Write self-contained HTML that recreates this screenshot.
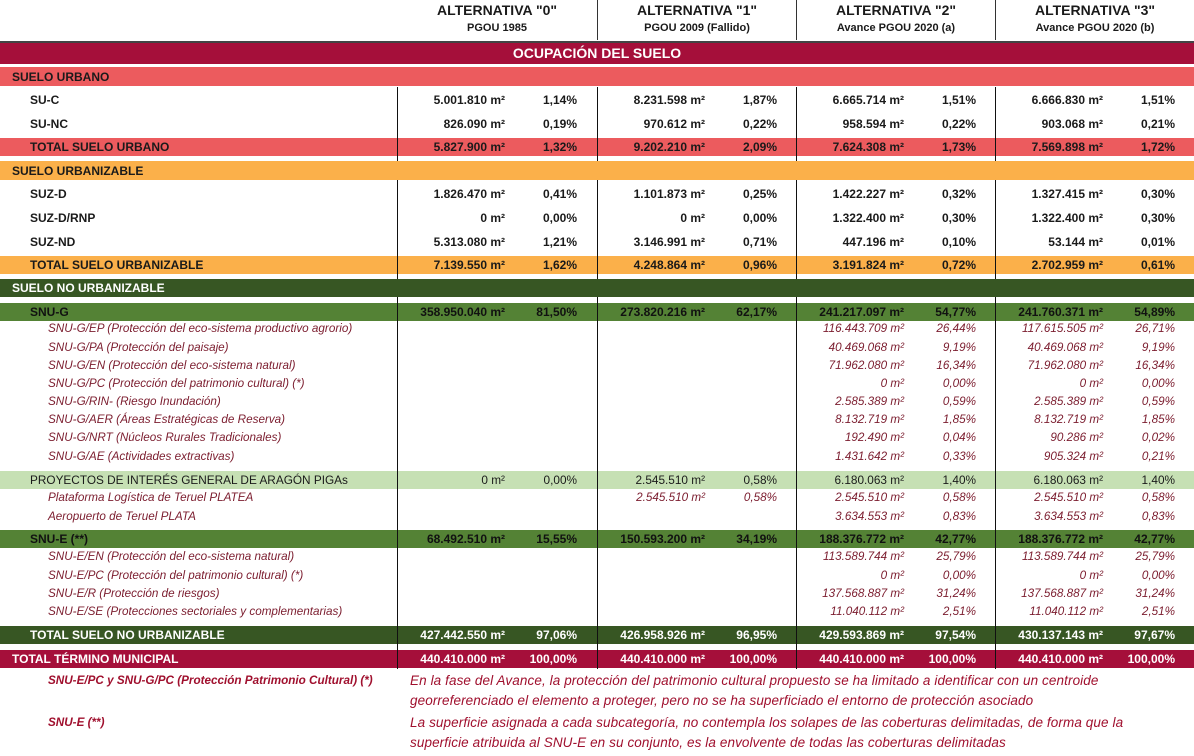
<!DOCTYPE html>
<html><head><meta charset="utf-8">
<style>
body{margin:0;background:#fff;}
#t{position:relative;width:1194px;height:756px;overflow:hidden;font-family:"Liberation Sans",sans-serif;}
.a{position:absolute;white-space:nowrap;line-height:18px;}
</style></head>
<body>
<div id="t"></div>
<script>
const altTitles=['ALTERNATIVA "0"','ALTERNATIVA "1"','ALTERNATIVA "2"','ALTERNATIVA "3"'];
const altSubs=['PGOU 1985','PGOU 2009 (Fallido)','Avance PGOU 2020 (a)','Avance PGOU 2020 (b)'];
// row: [y-center, type, label, values (4 x [area,pct]) or null]
const rows=[
[100,'row','SU-C',[['5.001.810','1,14%'],['8.231.598','1,87%'],['6.665.714','1,51%'],['6.666.830','1,51%']]],
[124,'row','SU-NC',[['826.090','0,19%'],['970.612','0,22%'],['958.594','0,22%'],['903.068','0,21%']]],
[147,'totU','TOTAL SUELO URBANO',[['5.827.900','1,32%'],['9.202.210','2,09%'],['7.624.308','1,73%'],['7.569.898','1,72%']]],
[194,'row','SUZ-D',[['1.826.470','0,41%'],['1.101.873','0,25%'],['1.422.227','0,32%'],['1.327.415','0,30%']]],
[218,'row','SUZ-D/RNP',[['0','0,00%'],['0','0,00%'],['1.322.400','0,30%'],['1.322.400','0,30%']]],
[242,'row','SUZ-ND',[['5.313.080','1,21%'],['3.146.991','0,71%'],['447.196','0,10%'],['53.144','0,01%']]],
[265,'totZ','TOTAL SUELO URBANIZABLE',[['7.139.550','1,62%'],['4.248.864','0,96%'],['3.191.824','0,72%'],['2.702.959','0,61%']]],
[312,'snu','SNU-G',[['358.950.040','81,50%'],['273.820.216','62,17%'],['241.217.097','54,77%'],['241.760.371','54,89%']]],
[329,'sub','SNU-G/EP (Protección del eco-sistema productivo agrorio)',[null,null,['116.443.709','26,44%'],['117.615.505','26,71%']]],
[348,'sub','SNU-G/PA (Protección del paisaje)',[null,null,['40.469.068','9,19%'],['40.469.068','9,19%']]],
[366,'sub','SNU-G/EN (Protección del eco-sistema natural)',[null,null,['71.962.080','16,34%'],['71.962.080','16,34%']]],
[384,'sub','SNU-G/PC (Protección del patrimonio cultural) (*)',[null,null,['0','0,00%'],['0','0,00%']]],
[402,'sub','SNU-G/RIN- (Riesgo Inundación)',[null,null,['2.585.389','0,59%'],['2.585.389','0,59%']]],
[420,'sub','SNU-G/AER (Áreas Estratégicas de Reserva)',[null,null,['8.132.719','1,85%'],['8.132.719','1,85%']]],
[438,'sub','SNU-G/NRT (Núcleos Rurales Tradicionales)',[null,null,['192.490','0,04%'],['90.286','0,02%']]],
[457,'sub','SNU-G/AE (Actividades extractivas)',[null,null,['1.431.642','0,33%'],['905.324','0,21%']]],
[480,'piga','PROYECTOS DE INTERÉS GENERAL DE ARAGÓN PIGAs',[['0','0,00%'],['2.545.510','0,58%'],['6.180.063','1,40%'],['6.180.063','1,40%']]],
[498,'sub','Plataforma Logística de Teruel PLATEA',[null,['2.545.510','0,58%'],['2.545.510','0,58%'],['2.545.510','0,58%']]],
[517,'sub','Aeropuerto de Teruel PLATA',[null,null,['3.634.553','0,83%'],['3.634.553','0,83%']]],
[539,'snu','SNU-E (**)',[['68.492.510','15,55%'],['150.593.200','34,19%'],['188.376.772','42,77%'],['188.376.772','42,77%']]],
[557,'sub','SNU-E/EN (Protección del eco-sistema natural)',[null,null,['113.589.744','25,79%'],['113.589.744','25,79%']]],
[576,'sub','SNU-E/PC (Protección del patrimonio cultural) (*)',[null,null,['0','0,00%'],['0','0,00%']]],
[594,'sub','SNU-E/R (Protección de riesgos)',[null,null,['137.568.887','31,24%'],['137.568.887','31,24%']]],
[612,'sub','SNU-E/SE (Protecciones sectoriales y complementarias)',[null,null,['11.040.112','2,51%'],['11.040.112','2,51%']]],
[635,'totN','TOTAL SUELO NO URBANIZABLE',[['427.442.550','97,06%'],['426.958.926','96,95%'],['429.593.869','97,54%'],['430.137.143','97,67%']]],
[659,'totT','TOTAL TÉRMINO MUNICIPAL',[['440.410.000','100,00%'],['440.410.000','100,00%'],['440.410.000','100,00%'],['440.410.000','100,00%']]]
];
const sections=[[67,86,'#ec5b5e','SUELO URBANO','#1a1a1a'],[161,180,'#fbb04a','SUELO URBANIZABLE','#1a1a1a'],[279,297,'#375623','SUELO NO URBANIZABLE','#fff']];
const styles={
 row:{bg:null,fg:'#1a1a1a',bold:true,it:false,x:30,fs:12},
 totU:{bg:'#ec5b5e',fg:'#1a1a1a',bold:true,it:false,x:30,fs:12},
 totZ:{bg:'#fbb04a',fg:'#1a1a1a',bold:true,it:false,x:30,fs:12},
 snu:{bg:'#548235',fg:'#111',bold:true,it:false,x:30,fs:12},
 sub:{bg:null,fg:'#7b1c2e',bold:false,it:true,x:48,fs:11.7},
 piga:{bg:'#c6e0b4',fg:'#1a1a1a',bold:false,it:false,x:30,fs:11.8},
 totN:{bg:'#375623',fg:'#fff',bold:true,it:false,x:30,fs:12},
 totT:{bg:'#a50f3a',fg:'#fff',bold:true,it:false,x:12,fs:12}
};
const T=document.getElementById('t');
function box(x,y,w,h,c){const d=document.createElement('div');d.style.cssText=`position:absolute;left:${x}px;top:${y}px;width:${w}px;height:${h}px;background:${c}`;T.appendChild(d);return d;}
function txt(s,x,y,o){const d=document.createElement('div');d.className='a';d.textContent=s;
 let css=`top:${y-9}px;font-size:${o.fs||12}px;color:${o.fg||'#1a1a1a'};font-weight:${o.bold?'bold':'normal'};font-style:${o.it?'italic':'normal'};`;
 if(o.ls)css+=`letter-spacing:${o.ls}px;`;
 if(o.right!=null)css+=`right:${1194-o.right}px;`;else if(o.center)css+=`left:${x-150}px;width:300px;text-align:center;`;else css+=`left:${x}px;`;
 d.style.cssText=css;T.appendChild(d);return d;}
const colX=[397,597,796,995];
for(let i=0;i<4;i++){
 const h=txt(altTitles[i],colX[i]+100,10,{fs:14,bold:true,center:true});
 
 
 const s=txt(altSubs[i],colX[i]+100,28,{fs:11,bold:true,center:true});
 
 
 if(i>0)box(colX[i],0,1,40,'#333');
}
box(0,41,1194,2,'#444');
const oc=box(0,43,1194,21,'#a50f3a');


const ot=txt('OCUPACIÓN DEL SUELO',597,53,{fs:14,bold:true,fg:'#fff',center:true});


rows.forEach(r=>{const st=styles[r[1]];if(st.bg){box(0,r[0]-9,1194,18,st.bg);}});
for(let i=0;i<4;i++){box(colX[i],87,1,582,'#111');}
sections.forEach(s=>{
 const b=box(0,s[0],1194,s[1]-s[0],s[2]);
 
 
 const t=txt(s[3],12,(s[0]+s[1])/2,{fs:12,bold:true,fg:s[4]});
 
 
});
rows.forEach(r=>{
 const st=styles[r[1]];
 const l=txt(r[2],st.x,r[0],st);
 
 
 r[3].forEach((v,i)=>{
  if(!v)return;
  const a=txt(v[0]+' m²',0,r[0],Object.assign({},st,{right:colX[i]+108}));
  
  
  const p=txt(v[1],0,r[0],Object.assign({},st,{right:colX[i]+180}));
  
  
 });
});
const notes=[[681,'SNU-E/PC y SNU-G/PC (Protección Patrimonio Cultural) (*)',['En la fase del Avance, la protección del patrimonio cultural propuesto se ha limitado a identificar con un centroide','georreferenciado el elemento a proteger, pero no se ha superficiado el entorno de protección asociado']],
[723,'SNU-E (**)',['La superficie asignada a cada subcategoría, no contempla los solapes de las coberturas delimitadas, de forma que la','superficie atribuida al SNU-E en su conjunto, es la envolvente de todas las coberturas delimitadas']]];
notes.forEach(n=>{
 const a=txt(n[1],48,n[0],{fs:11.7,bold:true,it:true,fg:'#a0102e'});
 
 
 n[2].forEach((s,j)=>{const b=txt(s,410,n[0]+j*20,{fs:13.5,it:true,fg:'#a0102e',ls:0.1});
  
  });
});
</script>
</body></html>
